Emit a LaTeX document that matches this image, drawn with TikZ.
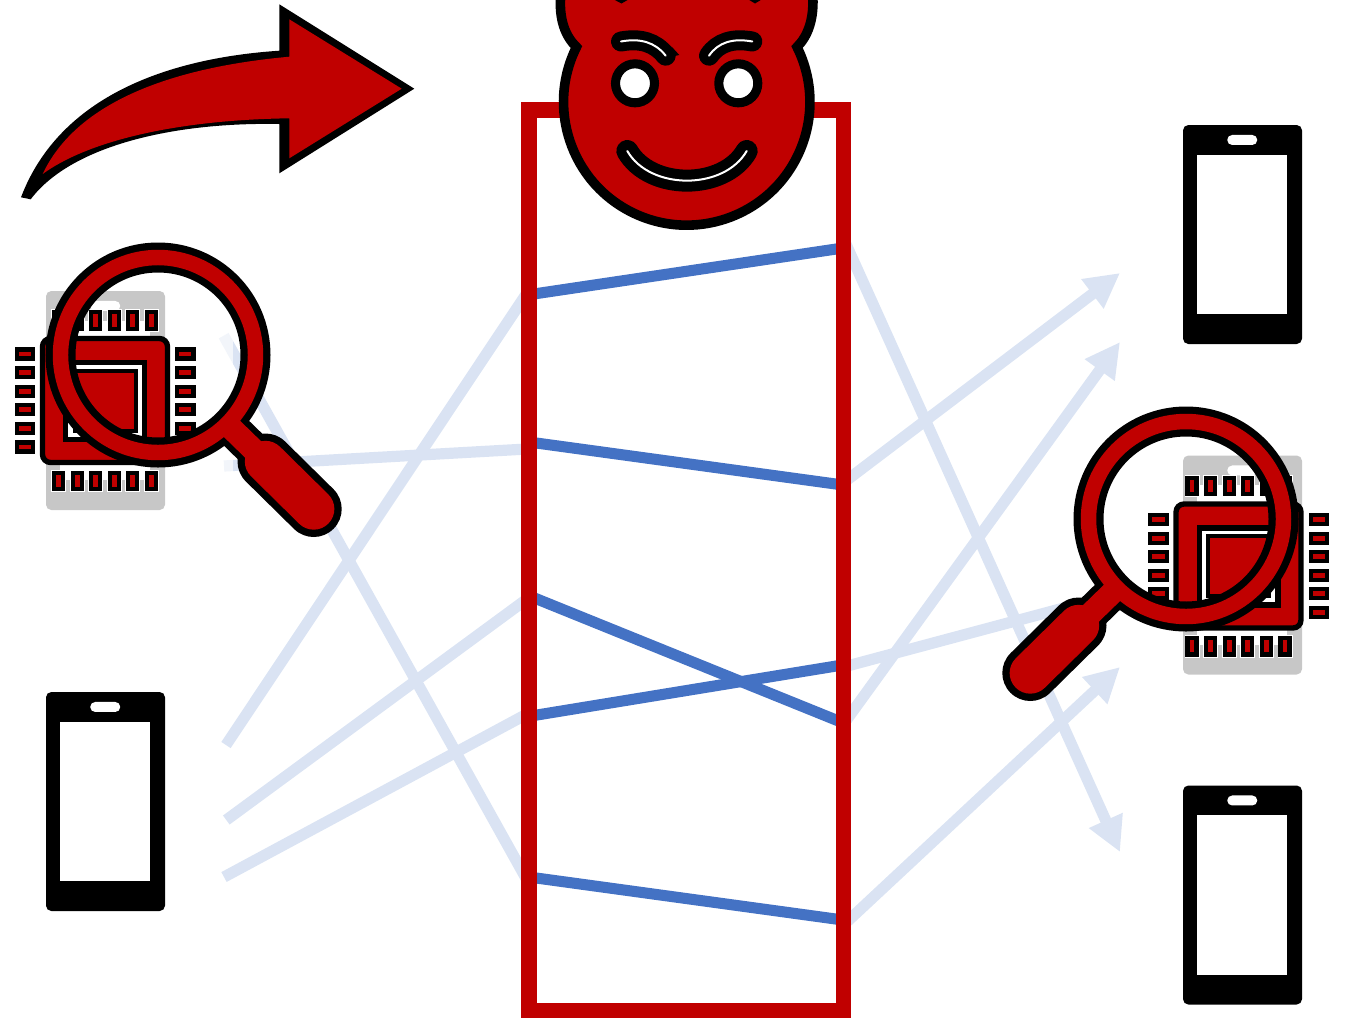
\documentclass[tikz,border=0pt]{standalone}
\usetikzlibrary{arrows.meta}
\definecolor{devilred}{HTML}{C00000}
\definecolor{linkblue}{HTML}{4472C4}
\definecolor{paleblue}{HTML}{DAE3F3}
\definecolor{phonegray}{HTML}{C7C7C7}
\begin{document}
\begin{tikzpicture}[
    x=0.75pt, y=-0.75pt,
    hop/.style={paleblue, line width=8.4pt},
    hoparrow/.style={hop, -{Triangle[length=26pt, width=26pt]}},
    link/.style={linkblue, line width=8.3pt},
    outline/.style={draw=black, fill=devilred},
    phonebody/.style={rectangle, rounded corners=4pt, minimum width=89.25pt, minimum height=164.25pt, inner sep=0pt},
    phonescreen/.style={rectangle, fill=white, minimum width=67.5pt, minimum height=119.5pt, inner sep=0pt},
    phonepill/.style={rectangle, fill=white, rounded corners=3.7pt, minimum width=22.5pt, minimum height=7.5pt, inner sep=0pt},
    pics/chip/.style={code={
        % Pins
        \foreach \k in {-46.5,-27.9,-9.3,9.3,27.9,46.5} {
            \foreach \s in {-80,80.3} {
                \fill[white] (\k-7.5,\s-11.2) rectangle (\k+7.5,\s+11.2);
                \draw[outline, line width=3.1pt] (\k-4.5,\s-8.2) rectangle (\k+4.5,\s+8.2);
                \fill[white] (\s-11.2,\k-7.5) rectangle (\s+11.2,\k+7.5);
                \draw[outline, line width=3.1pt] (\s-8.2,\k-4.5) rectangle (\s+8.2,\k+4.5);
            }
        }
        % Body
        \draw[outline, line width=4pt, rounded corners=6pt] (-62.5,-62) rectangle (62.5,62);
        \draw[draw=black, fill=white, line width=3.8pt] (-39.2,-38) rectangle (39.5,39);
        \draw[outline, line width=3pt] (-30.3,-29.8) rectangle (30.7,30.2);
    }},
    pics/lens/.style={code={
        \draw[black, line width=22.5pt] (0,0) circle (97.5);
        \draw[black, line width=26.5pt] (69.6,69.6) -- (107.5,106.5);
        \draw[black, line width=42pt, line cap=round] (107.5,106.5) -- (155.7,154);
        \draw[devilred, line width=11.6pt] (0,0) circle (97.5);
        \draw[devilred, line width=17.2pt] (69.6,69.6) -- (107.5,106.5);
        \draw[devilred, line width=31pt, line cap=round] (107.5,106.5) -- (155.7,154);
    }},
]
    \path[use as bounding box, clip] (0,0) rectangle (1345,1018);

    % Ends of the hops
    \foreach \n/\x/\y in {l1/226/745, l2/224/466, l3/226.3/820, l4/224/877, l5/223.7/335.7,
        m1/527/293, m2/527/449, m3/527/599, m4/527/714, m5/527/880,
        n1/845/242, n2/845/481.5, n3/845/722, n4/845/666.6, n5/845/923.6,
        r1/1120/852, r2/1120/273, r3/1120/342, r4/1075/605, r5/1120/667}
        \coordinate (\n) at (\x,\y);

    % Ends of the links
    \foreach \n/\x/\y in {a1/529/294.7, a2/529/442, a3/529/595.8, a4/529/716.3, a5/529/877,
        b1/843/248, b2/843/485, b3/843/722.8, b4/843/664.9, b5/843/920}
        \coordinate (\n) at (\x,\y);

    % Hops on the left
    \draw[hop] (l1) -- (m1);
    \draw[hop] (l2) -- (m2);
    \draw[hop] (l3) -- (m3);
    \draw[hop] (l4) -- (m4);
    \draw[hop] (l5) -- (m5);

    % Hops on the right
    \draw[hoparrow] (n1) -- (r1);
    \draw[hoparrow] (n2) -- (r2);
    \draw[hoparrow] (n3) -- (r3);
    \draw[hop] (n4) -- (r4);
    \draw[hoparrow] (n5) -- (r5);

    % Faded start of two hops
    \fill[white, opacity=0.65] (210,325) rectangle (233,480);

    % Links in the tower
    \foreach \i in {1,...,5}
        \draw[link] (a\i) -- (b\i);

    % Tower
    \draw[devilred, line width=11.6pt] (529,110) rectangle (843.5,1010.5);

    % Devil
    \draw[outline, line width=7.2pt] (576.5,47) arc[start angle=206.5, end angle=-26.5, radius=123.2]
        .. controls (807,37) and (815,20) .. (812.5,-8) -- (561,-8)
        .. controls (558,20) and (566,37) .. (576.5,47) -- cycle;
    \fill[black] (611,-2) -- (621.5,3.5) -- (631,-2) -- cycle;
    \fill[black] (746,-2) -- (755,3.5) -- (764,-2) -- cycle;
    \foreach \x in {635,738.3}
        \draw[draw=black, fill=white, line width=6.8pt] (\x,83.3) circle (19.5);
    \draw[black, line width=15pt, line cap=round] (621,41.5) .. controls (640,38) and (655,42) .. (665.7,55.7);
    \draw[black, line width=15pt, line cap=round] (752.3,41.5) .. controls (733.3,38) and (718.3,42) .. (709,55.7);
    \fill[black] (671.7,46.7) -- (679.3,55) -- (671.7,56.7) -- cycle;
    \draw[white, line width=1.5pt, line cap=round] (621,41.5) .. controls (640,38) and (655,42) .. (665.7,55.7);
    \draw[white, line width=1.5pt, line cap=round] (752.3,41.5) .. controls (733.3,38) and (718.3,42) .. (709,55.7);
    \draw[black, line width=16.5pt, line cap=round] (627.3,151) .. controls (650,190.5) and (724,190.5) .. (746.7,151);
    \draw[white, line width=1.5pt, line cap=round] (627.3,151) .. controls (650,190.5) and (724,190.5) .. (746.7,151);

    % Phones
    \foreach \n/\x/\y/\c in {phonea/105.5/801.5/black, phoneb/1242.5/234.5/black,
        phonec/1242.5/895/black, phoned/105.5/400.5/phonegray, phonee/1242.5/565/phonegray} {
        \node[phonebody, fill=\c] (\n) at (\x,\y) {};
        \node[phonescreen] (\n s) at ([xshift=-0.2pt]\n.center) {};
        \node[phonepill] (\n p) at ([xshift=-0.2pt,yshift=70.9pt]\n.center) {};
    }

    % Chips
    \pic at (105,400.5) {chip};
    \pic at (1238.5,566) {chip};

    % Magnifiers
    \pic at (158,355) {lens};
    \pic[xscale=-1] at (1186,519) {lens};

    % Big arrow
    \fill[black] (21,197.3) .. controls (60,95) and (170,58) .. (279.3,50.7) -- (279.3,4.3) -- (414.3,88.7)
        -- (279.3,173.3) -- (279.3,124) .. controls (170,122) and (70,147) .. (30.7,199.3) -- cycle;
    \fill[devilred] (42.7,174) .. controls (75,105) and (165,68) .. (289.3,56.7) -- (289.3,19.3) -- (401.7,88.7)
        -- (289.3,158.3) -- (289.3,118.3) .. controls (170,120) and (85,143) .. (42.7,174) -- cycle;
\end{tikzpicture}
\end{document}
